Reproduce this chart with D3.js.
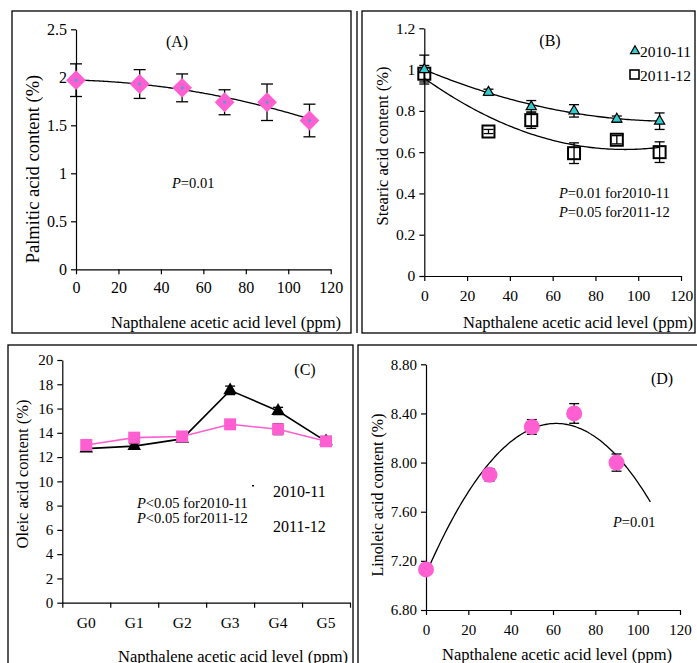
<!DOCTYPE html>
<html lang="en">
<head>
<meta charset="UTF-8">
<script src="https://cdn.jsdelivr.net/npm/d3@7"></script>
<style>
  body { margin: 0; background: #fff; }
  svg text { font-family: "Liberation Serif", "Times New Roman", serif; fill: #000; }
  .axis path, .axis line { stroke: #000; stroke-width: 1.2; }
</style>
</head>
<body>
<div id="fig"></div>
<script>
// ---- data ----
const nafLevels = [0, 30, 50, 70, 90, 110];

const palmitic = [1.97, 1.93, 1.89, 1.74, 1.74, 1.55];
const palmiticErr = [0.17, 0.15, 0.145, 0.13, 0.19, 0.17];

const stearic1011 = [1.00, 0.89, 0.82, 0.80, 0.76, 0.75];
const stearic1011Err = [0.07, 0.015, 0.03, 0.03, 0.015, 0.04];
const stearic1112 = [0.98, 0.70, 0.755, 0.595, 0.66, 0.60];
const stearic1112Err = [0.04, 0.01, 0.04, 0.05, 0.02, 0.05];

const oleicGroups = ["G0", "G1", "G2", "G3", "G4", "G5"];
const oleic1011 = [12.7, 12.9, 13.5, 17.5, 15.8, 13.3];
const oleic1011Err = [0.2, 0.2, 0.2, 0.35, 0.3, 0.2];
const oleic1112 = [13.0, 13.6, 13.7, 14.7, 14.3, 13.3];
const oleic1112Err = [0.2, 0.2, 0.2, 0.3, 0.45, 0.2];

const linoleicLevels = [0, 30, 50, 70, 90];
const linoleic = [7.13, 7.90, 8.29, 8.40, 8.00];
const linoleicErr = [0.02, 0.05, 0.06, 0.08, 0.07];

const seasons = ["2010-11", "2011-12"];
const xTitle = "Napthalene acetic acid level (ppm)";

const pink = "#ff5fd0";
const cyan = "#33cccc";
const serif = '"Liberation Serif", "Times New Roman", serif';

const width = 697, height = 663;
const svg = d3.select("#fig").append("svg")
    .attr("width", width).attr("height", height)
    .attr("font-family", serif);

// least squares 2nd order polynomial (the excel style trend line)
function quadFit(xs, ys) {
    const s = k => d3.sum(xs, x => Math.pow(x, k));
    const t = k => d3.sum(xs, (x, i) => Math.pow(x, k) * ys[i]);
    const A = [[s(0), s(1), s(2)], [s(1), s(2), s(3)], [s(2), s(3), s(4)]];
    const b = [t(0), t(1), t(2)];
    for (let i = 0; i < 3; i++) {
        for (let j = i + 1; j < 3; j++) {
            const f = A[j][i] / A[i][i];
            for (let k = i; k < 3; k++) A[j][k] -= f * A[i][k];
            b[j] -= f * b[i];
        }
    }
    const c = [0, 0, 0];
    for (let i = 2; i >= 0; i--) {
        let v = b[i];
        for (let k = i + 1; k < 3; k++) v -= A[i][k] * c[k];
        c[i] = v / A[i][i];
    }
    return x => c[0] + c[1] * x + c[2] * x * x;
}

function box(x0, y0, x1, y1) {
    svg.append("rect")
        .attr("x", x0).attr("y", y0)
        .attr("width", x1 - x0).attr("height", y1 - y0)
        .attr("fill", "none").attr("stroke", "#000").attr("stroke-width", 1.3);
}

function label(x, y, text, size, anchor) {
    return svg.append("text").attr("x", x).attr("y", y)
        .attr("text-anchor", anchor || "start")
        .attr("font-family", serif)
        .style("font-size", size + "px").text(text);
}

function yAxisTitle(text, x, y, size) {
    svg.append("text")
        .attr("transform", `translate(${x},${y}) rotate(-90)`)
        .attr("text-anchor", "middle")
        .attr("dominant-baseline", "central")
        .attr("font-family", serif)
        .style("font-size", size + "px")
        .text(text);
}

function pText(x, y, op, vals) {
    const t = svg.append("text").attr("x", x).attr("y", y)
        .attr("font-family", serif).style("font-size", "14.5px");
    t.append("tspan").attr("font-style", "italic").text("P");
    t.append("tspan").text(op + vals);
}

function styleAxis(a, size) {
    a.attr("font-family", serif);
    a.selectAll("text").style("font-size", size + "px").attr("fill", "#000");
}

function errorBars(g, xs, ys, errs, x, y, cap) {
    const d = xs.map((v, i) => ({x: v, y: ys[i], e: errs[i]}));
    const eb = g.append("g").attr("stroke", "#000").attr("stroke-width", 1.3);
    eb.selectAll("line.v").data(d).enter().append("line")
        .attr("x1", p => x(p.x)).attr("x2", p => x(p.x))
        .attr("y1", p => y(p.y - p.e)).attr("y2", p => y(p.y + p.e));
    [1, -1].forEach(sgn => {
        eb.selectAll(null).data(d).enter().append("line")
            .attr("x1", p => x(p.x) - cap).attr("x2", p => x(p.x) + cap)
            .attr("y1", p => y(p.y + sgn * p.e)).attr("y2", p => y(p.y + sgn * p.e));
    });
}

function trend(g, xs, ys, x, y, xEnd) {
    const f = quadFit(xs, ys);
    const pts = d3.range(0, xEnd + 0.01, 1).map(v => [v, f(v)]);
    g.append("path")
        .attr("d", d3.line().x(p => x(p[0])).y(p => y(p[1])).curve(d3.curveBasis)(pts))
        .attr("fill", "none").attr("stroke", "#000").attr("stroke-width", 1.3);
}

function numAxes(x, y, yTickVals, yFmt, tickFont, xLabelDy) {
    const g = svg.append("g");
    g.append("g").attr("class", "axis")
        .attr("transform", `translate(0,${y.range()[0]})`)
        .call(d3.axisBottom(x).tickValues(d3.range(0, 121, 20)).tickSize(5).tickSizeOuter(0).tickPadding(xLabelDy))
        .call(a => styleAxis(a, tickFont));
    g.append("g").attr("class", "axis")
        .attr("transform", `translate(${x.range()[0]},0)`)
        .call(d3.axisLeft(y).tickValues(yTickVals).tickFormat(yFmt).tickSize(5).tickSizeOuter(0).tickPadding(4))
        .call(a => styleAxis(a, tickFont));
    return g;
}

// ================= (A) palmitic =================
{
    box(12, 11, 351, 333);
    svg.append("line").attr("x1", 357).attr("x2", 357).attr("y1", 11).attr("y2", 333)
        .attr("stroke", "#000").attr("stroke-width", 1.3);
    const x = d3.scaleLinear().domain([0, 120]).range([76, 330.7]);
    const y = d3.scaleLinear().domain([0, 2.5]).range([269.3, 29.3]);
    numAxes(x, y, d3.range(0, 2.51, 0.5), d3.format(""), 16, 7);
    const g = svg.append("g");
    errorBars(g, nafLevels, palmitic, palmiticErr, x, y, 6);
    trend(g, nafLevels, palmitic, x, y, 110);
    g.selectAll("path.m").data(nafLevels).enter().append("path")
        .attr("d", d3.symbol(d3.symbolDiamond2, 250))
        .attr("transform", (d, i) => `translate(${x(d)},${y(palmitic[i])})`)
        .attr("fill", pink);
    g.selectAll("circle.c").data(nafLevels).enter().append("circle")
        .attr("cx", d => x(d)).attr("cy", (d, i) => y(palmitic[i])).attr("r", 1.6)
        .attr("fill", "#5b9bd5");
    label(177, 47, "(A)", 16, "middle");
    pText(172, 188, "=", "0.01");
    yAxisTitle("Palmitic acid content (%)", 33, 169, 18.5);
    label(226, 328, xTitle, 16.5, "middle");
}

// ================= (B) stearic =================
{
    box(362, 11, 695, 333);
    const x = d3.scaleLinear().domain([0, 120]).range([424.3, 681]);
    const y = d3.scaleLinear().domain([0, 1.2]).range([276, 28.3]);
    numAxes(x, y, d3.range(0, 1.21, 0.2), d3.format(".1~f"), 15.5, 9);
    const g = svg.append("g");
    errorBars(g, nafLevels, stearic1112, stearic1112Err, x, y, 5);
    errorBars(g, nafLevels, stearic1011, stearic1011Err, x, y, 5);
    trend(g, nafLevels, stearic1011, x, y, 110);
    trend(g, nafLevels, stearic1112, x, y, 110);
    g.selectAll("rect.sq").data(nafLevels).enter().append("rect")
        .attr("x", d => x(d) - 6).attr("y", (d, i) => y(stearic1112[i]) - 6)
        .attr("width", 12).attr("height", 12)
        .attr("fill", "none").attr("stroke", "#000").attr("stroke-width", 2);
    g.selectAll("path.tri").data(nafLevels).enter().append("path")
        .attr("d", d3.symbol(d3.symbolTriangle, 45))
        .attr("transform", (d, i) => `translate(${x(d)},${y(stearic1011[i])})`)
        .attr("fill", cyan).attr("stroke", "#000").attr("stroke-width", 1.2);
    label(550, 46, "(B)", 16, "middle");
    // legend
    svg.append("path").attr("d", d3.symbol(d3.symbolTriangle, 35))
        .attr("transform", "translate(635,51)")
        .attr("fill", cyan).attr("stroke", "#000").attr("stroke-width", 1.2);
    svg.append("rect").attr("x", 630).attr("y", 70).attr("width", 9).attr("height", 9)
        .attr("fill", "none").attr("stroke", "#000").attr("stroke-width", 1.6);
    label(640, 57, seasons[0], 15.5);
    label(640, 81, seasons[1], 15.5);
    pText(559, 198, "=", `0.01 for${seasons[0]}`);
    pText(559, 217, "=", `0.05 for${seasons[1]}`);
    yAxisTitle("Stearic acid content (%)", 382, 146, 16.5);
    label(578, 328, xTitle, 16.5, "middle");
}

// ================= (C) oleic =================
{
    box(8, 345, 353, 700);
    const x = d3.scaleBand().domain(oleicGroups).range([62.3, 350]);
    const edges = d3.scaleLinear().domain([0, oleicGroups.length]).range(x.range());
    const y = d3.scaleLinear().domain([0, 20]).range([602.7, 360]);
    const ax = svg.append("g");
    ax.append("g").attr("class", "axis")
        .attr("transform", `translate(0,${y.range()[0]})`)
        .call(d3.axisBottom(edges).tickValues(d3.range(0, 7)).tickFormat("").tickSize(5).tickSizeOuter(0));
    ax.append("g").attr("class", "axis")
        .attr("transform", `translate(0,${y.range()[0]})`)
        .call(d3.axisBottom(x).tickSize(0).tickPadding(14))
        .call(a => { a.select(".domain").remove(); styleAxis(a, 15.5); });
    ax.append("g").attr("class", "axis")
        .attr("transform", `translate(${x.range()[0]},0)`)
        .call(d3.axisLeft(y).tickValues(d3.range(0, 21, 2)).tickSize(5).tickSizeOuter(0).tickPadding(4))
        .call(a => styleAxis(a, 15));
    const cx = d => x(d) + x.bandwidth() / 2;
    const g = svg.append("g");
    const lineGen = vals => d3.line().x((d, i) => cx(oleicGroups[i])).y(d => y(d))(vals);
    errorBars(g, oleicGroups, oleic1011, oleic1011Err, cx, y, 5);
    errorBars(g, oleicGroups, oleic1112, oleic1112Err, cx, y, 5);
    g.append("path").attr("d", lineGen(oleic1011)).attr("fill", "none")
        .attr("stroke", "#000").attr("stroke-width", 1.6);
    g.selectAll("path.tri").data(oleicGroups).enter().append("path")
        .attr("d", d3.symbol(d3.symbolTriangle, 80))
        .attr("transform", (d, i) => `translate(${cx(d)},${y(oleic1011[i])})`)
        .attr("fill", "#000");
    g.append("path").attr("d", lineGen(oleic1112)).attr("fill", "none")
        .attr("stroke", pink).attr("stroke-width", 1.6);
    g.selectAll("rect.sq").data(oleicGroups).enter().append("rect")
        .attr("x", d => cx(d) - 6).attr("y", (d, i) => y(oleic1112[i]) - 6)
        .attr("width", 12).attr("height", 12).attr("fill", pink);
    label(305, 375, "(C)", 16, "middle");
    svg.append("rect").attr("x", 252).attr("y", 485).attr("width", 2).attr("height", 1.5).attr("fill", "#000");
    label(273, 497, seasons[0], 16);
    label(273, 532, seasons[1], 16);
    pText(137, 508, "<", `0.05 for${seasons[0]}`);
    pText(137, 523, "<", `0.05 for${seasons[1]}`);
    yAxisTitle("Oleic acid content (%)", 22, 474, 16.5);
    label(118, 662, xTitle, 16.5);
}

// ================= (D) linoleic =================
{
    box(358, 345, 700, 700);
    const x = d3.scaleLinear().domain([0, 120]).range([426, 680]);
    const y = d3.scaleLinear().domain([6.8, 8.8]).range([610, 364.3]);
    numAxes(x, y, d3.range(6.8, 8.81, 0.4), d3.format(".2f"), 15, 9);
    const g = svg.append("g");
    errorBars(g, linoleicLevels, linoleic, linoleicErr, x, y, 5);
    trend(g, linoleicLevels, linoleic, x, y, 106);
    g.selectAll("circle.m").data(linoleicLevels).enter().append("circle")
        .attr("cx", d => x(d)).attr("cy", (d, i) => y(linoleic[i])).attr("r", 8)
        .attr("fill", pink);
    label(662, 384, "(D)", 16, "middle");
    pText(613, 527, "=", "0.01");
    yAxisTitle("Linoleic acid content (%)", 377, 495, 16);
    label(557, 660, xTitle, 16.5, "middle");
}
</script>
</body>
</html>
